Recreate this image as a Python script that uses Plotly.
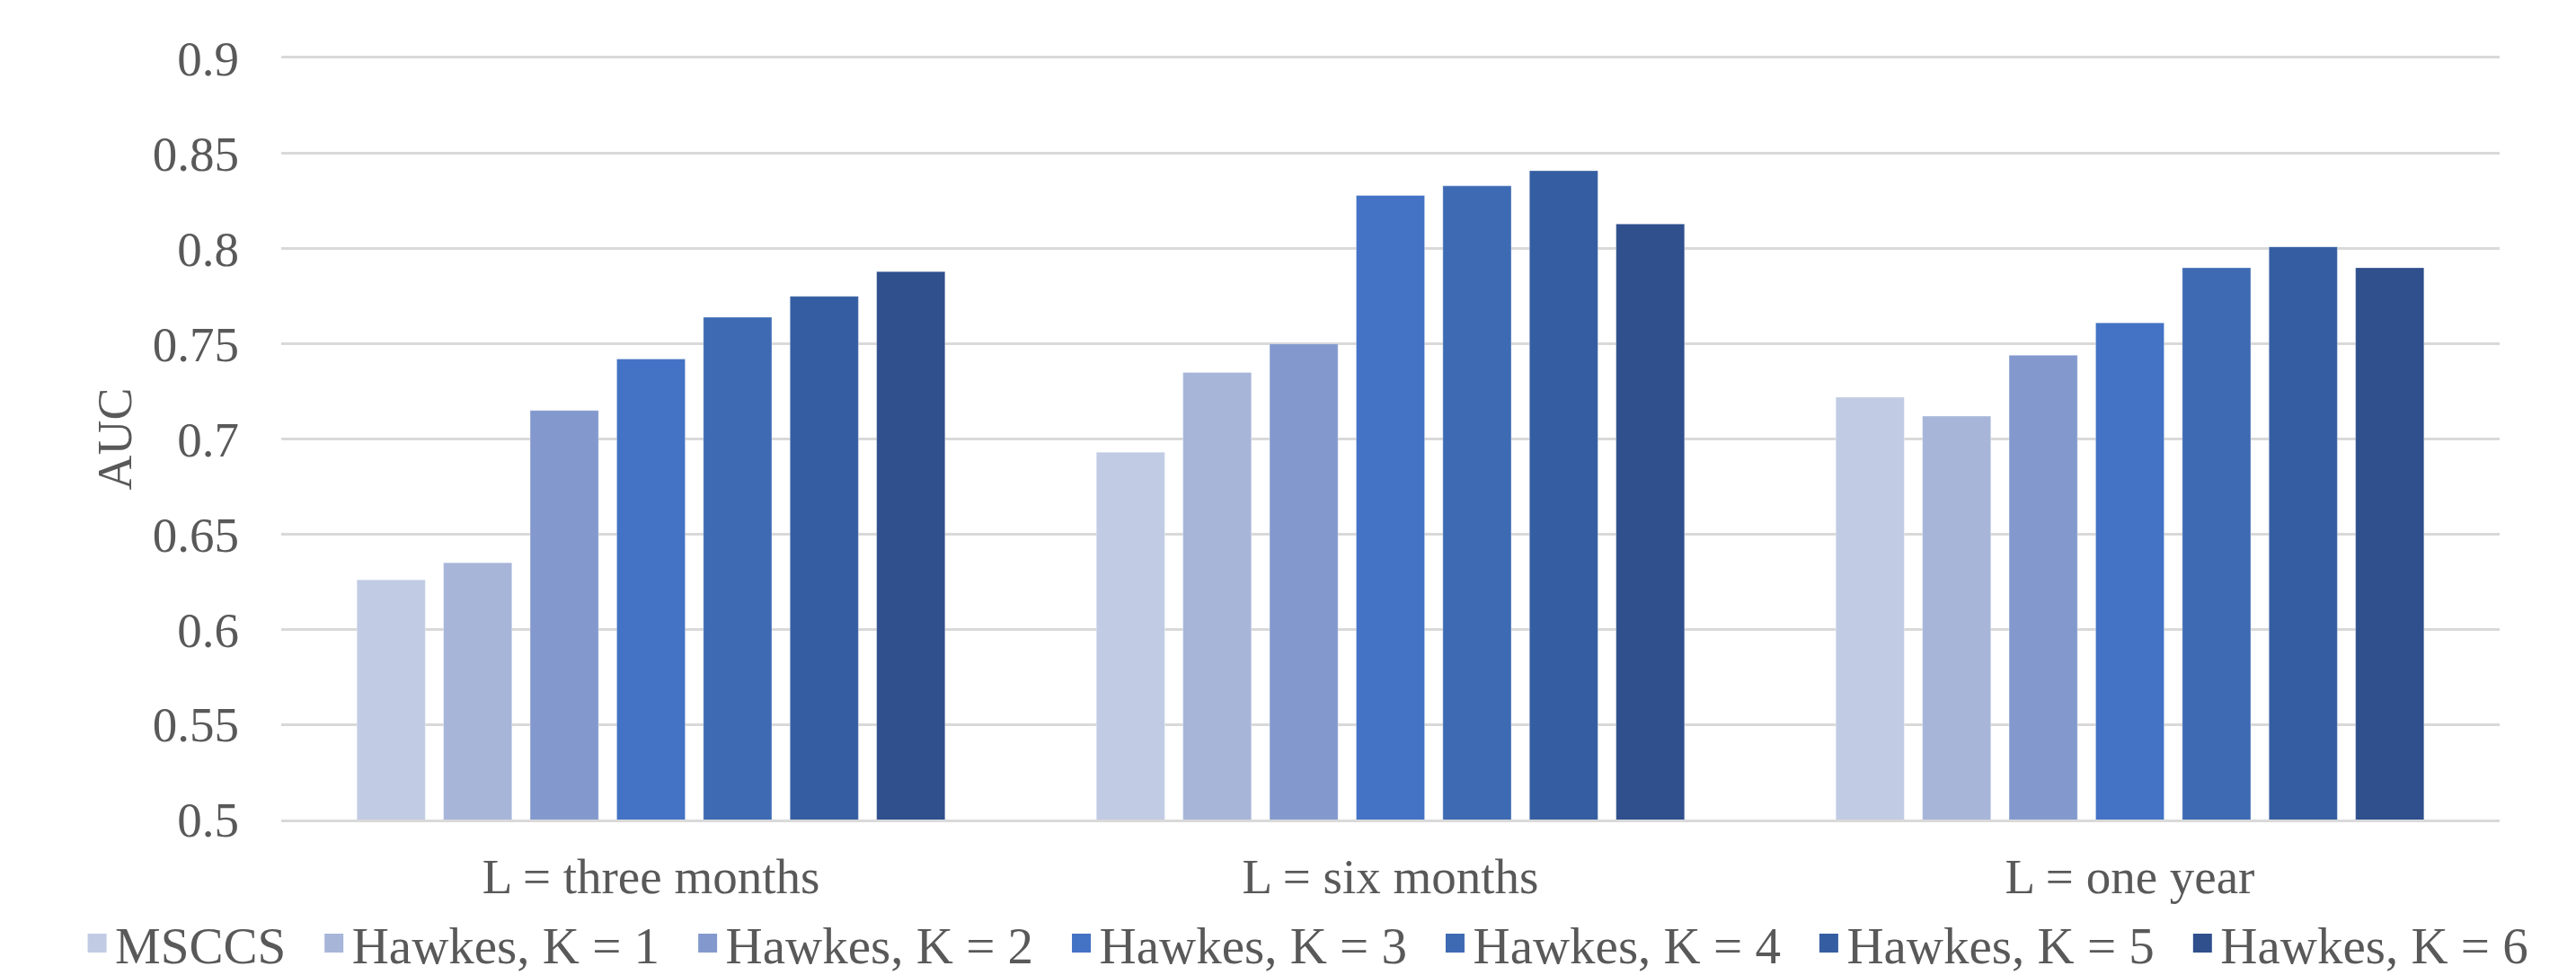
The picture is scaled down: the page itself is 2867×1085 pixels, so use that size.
import plotly.graph_objects as go

# Forecast horizons (x categories)
categories = ["L = three months", "L = six months", "L = one year"]

# Model names (legend entries)
series_names = [
    "MSCCS",
    "Hawkes, K = 1",
    "Hawkes, K = 2",
    "Hawkes, K = 3",
    "Hawkes, K = 4",
    "Hawkes, K = 5",
    "Hawkes, K = 6",
]

# AUC per model, one value per horizon
msccs = [0.626, 0.693, 0.722]
hawkes_k1 = [0.635, 0.735, 0.712]
hawkes_k2 = [0.715, 0.750, 0.744]
hawkes_k3 = [0.742, 0.828, 0.761]
hawkes_k4 = [0.764, 0.833, 0.790]
hawkes_k5 = [0.775, 0.841, 0.801]
hawkes_k6 = [0.788, 0.813, 0.790]

series_values = [msccs, hawkes_k1, hawkes_k2, hawkes_k3, hawkes_k4, hawkes_k5, hawkes_k6]

# Y axis ticks
y_tick_values = [0.5, 0.55, 0.6, 0.65, 0.7, 0.75, 0.8, 0.85, 0.9]
y_tick_labels = ["0.5", "0.55", "0.6", "0.65", "0.7", "0.75", "0.8", "0.85", "0.9"]

colors = ["#C1CBE4", "#A7B5D9", "#8399CE", "#4472C4", "#3D6AB3", "#355EA2", "#2F4F8D"]

FONT = "Times New Roman, Liberation Serif, serif"
TEXT_COLOR = "#595959"
GRID_COLOR = "#D9D9D9"
NBSP = "\u00a0"

fig = go.Figure()
for name, vals, col in zip(series_names, series_values, colors):
    fig.add_trace(
        go.Bar(
            name=name,
            x=categories,
            y=vals,
            showlegend=False,
            marker=dict(color=col, line=dict(color="rgba(255,255,255,0.35)", width=1)),
        )
    )

# Legend keys: larger square swatches than the default bar key
n = len(series_names)
for i, (name, col) in enumerate(zip(series_names, colors)):
    label = name + (NBSP * 2 if i < n - 1 else "")
    fig.add_trace(
        go.Scatter(
            name=label,
            x=[None],
            y=[None],
            mode="markers",
            marker=dict(symbol="square", size=16, color=col, line=dict(color=col, width=5)),
            hoverinfo="skip",
        )
    )

fig.update_layout(
    width=2867,
    height=1085,
    barmode="group",
    bargap=0.18,
    bargroupgap=0.21,
    paper_bgcolor="white",
    plot_bgcolor="white",
    margin=dict(l=313, r=85, t=65, b=173, autoexpand=False),
    font=dict(family=FONT, size=55, color=TEXT_COLOR),
    showlegend=True,
    legend=dict(
        orientation="h",
        xref="paper",
        yref="paper",
        x=-0.0911,
        xanchor="left",
        y=-0.163,
        yanchor="middle",
        font=dict(family=FONT, size=57, color=TEXT_COLOR),
        itemwidth=30,
        traceorder="normal",
        bgcolor="rgba(0,0,0,0)",
    ),
    xaxis=dict(
        type="category",
        showgrid=False,
        showline=True,
        mirror=True,
        linecolor=GRID_COLOR,
        linewidth=3,
        ticks="",
        ticklabelstandoff=13,
        tickfont=dict(family=FONT, size=55, color=TEXT_COLOR),
        automargin=False,
    ),
    yaxis=dict(
        range=[0.5, 0.9],
        tickvals=y_tick_values,
        ticktext=y_tick_labels,
        showgrid=True,
        gridcolor=GRID_COLOR,
        gridwidth=3,
        zeroline=False,
        showline=False,
        ticks="",
        ticklabelstandoff=46,
        tickfont=dict(family=FONT, size=55, color=TEXT_COLOR),
        title=dict(text="AUC", font=dict(family=FONT, size=54, color=TEXT_COLOR), standoff=5),
        automargin=False,
    ),
)

fig.write_html("out.html")
